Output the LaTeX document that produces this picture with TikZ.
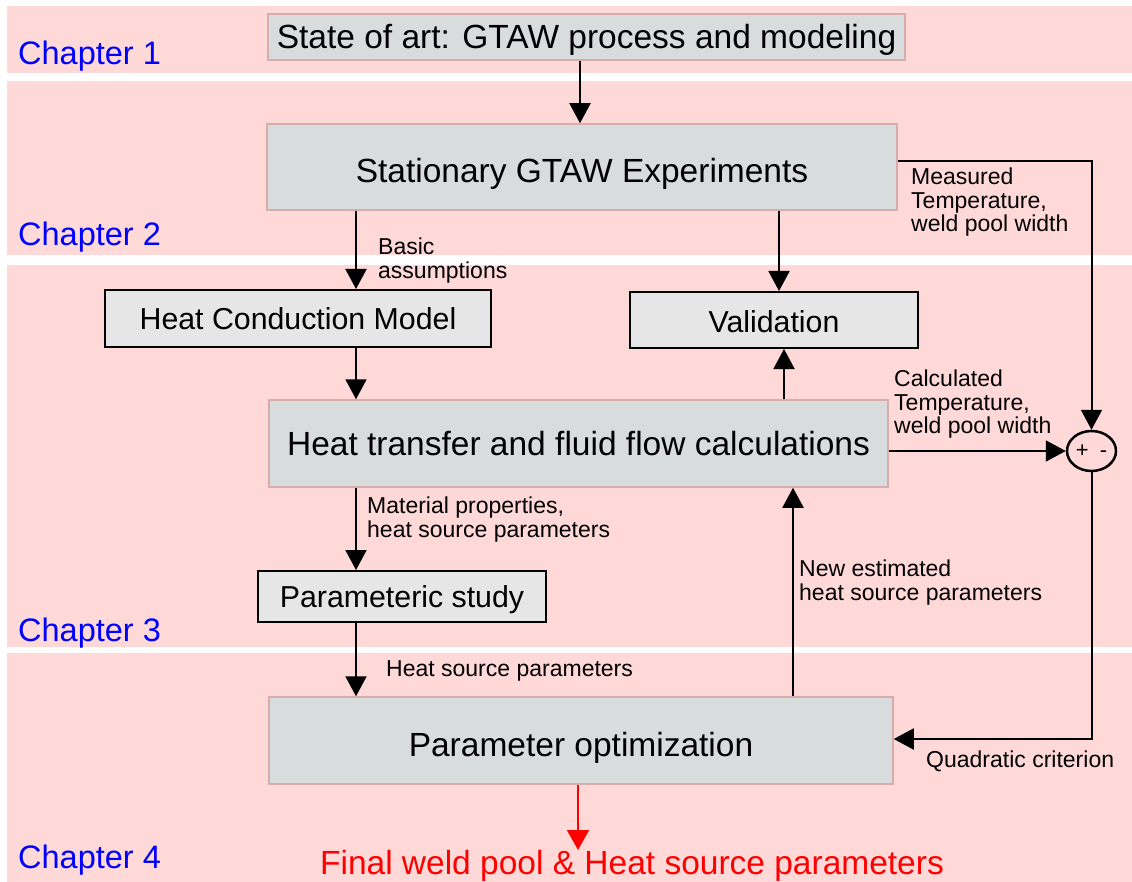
\documentclass[tikz,border=0pt]{standalone}
\usepackage{fontspec}
\setmainfont{Liberation Sans}
\usetikzlibrary{arrows.meta,shapes.geometric}
\definecolor{band}{RGB}{255,216,216}
\definecolor{boxfill}{RGB}{217,220,221}
\definecolor{boxline}{RGB}{214,172,172}
\definecolor{lightbox}{RGB}{230,230,230}
\definecolor{chap}{RGB}{0,0,255}
\definecolor{finalred}{RGB}{255,0,0}
\begin{document}
\begin{tikzpicture}[x=1pt,y=-1pt,
  bigbox/.style={draw=boxline, line width=1.5pt, fill=boxfill, inner sep=0pt, text height=24pt, text depth=0pt, font=\fontsize{33.5}{36}\selectfont},
  smallbox/.style={draw=black, line width=2pt, fill=lightbox, inner sep=0pt, text height=22pt, text depth=0pt, font=\fontsize{30.3}{33}\selectfont},
  lbl/.style={anchor=north west, inner sep=0pt, align=left, font=\fontsize{23}{23.5}\selectfont},
  chaplbl/.style={anchor=base west, inner sep=0pt, text=chap, font=\fontsize{32.5}{35}\selectfont},
  arr/.style={line width=2pt, -{Triangle[length=20pt,width=21pt]}},
  redarr/.style={line width=2pt, draw=finalred, -{Triangle[length=20pt,width=22pt]}},
]
\useasboundingbox (0,0) rectangle (1132,882);
% bands
\fill[band] (7,6) rectangle (1132,73);
\fill[band] (7,81) rectangle (1132,255);
\fill[band] (7,265) rectangle (1132,647);
\fill[band] (7,653) rectangle (1132,882);
% chapter labels
\node[chaplbl] (ch1) at (18,65) {Chapter 1};
\node[chaplbl] (ch2) at (18,246) {Chapter 2};
\node[chaplbl] (ch3) at (18,641) {Chapter 3};
\node[chaplbl] (ch4) at (18,868) {Chapter 4};
% boxes
\node[bigbox, minimum width=637pt, minimum height=46pt] (state) at (586.5,37) {State of art: GTAW process and modeling};
\node[bigbox, text height=32pt, minimum width=630pt, minimum height=86pt] (stat) at (582,167) {Stationary GTAW Experiments};
\node[smallbox, minimum width=386pt, minimum height=57pt] (hcm) at (298,318.5) {Heat Conduction Model};
\node[smallbox, text height=25pt, minimum width=288pt, minimum height=56pt] (val) at (774,320) {Validation};
\node[bigbox, minimum width=619pt, minimum height=87pt] (htf) at (578.5,443.5) {Heat transfer and fluid flow calculations};
\node[smallbox, minimum width=288pt, minimum height=51pt] (ps) at (402,596.5) {Parameteric study};
\node[bigbox, text height=31pt, minimum width=624pt, minimum height=87pt] (po) at (581,740.5) {Parameter optimization};
\node[draw=black, line width=2.5pt, ellipse, minimum width=49pt, minimum height=40pt, inner sep=0pt, font=\fontsize{22}{24}\selectfont] (sum) at (1091.5,451) {+\hspace{11pt}-};
\node[anchor=base, inner sep=0pt, text=finalred, font=\fontsize{33.5}{36}\selectfont] (final) at (632,874) {Final weld pool \& Heat source parameters};
% helper coordinates
\coordinate (x356) at (356,0);
\coordinate (x578) at (578,0);
\coordinate (x580) at (580,0);
\coordinate (x779) at (779,0);
\coordinate (x784) at (784,0);
\coordinate (x793) at (793,0);
\coordinate (y161) at (0,161);
\coordinate (y739) at (0,739);
\coordinate (redend) at (578,850);
% connectors
\draw[arr] (x580 |- state.south) -- (x580 |- stat.north);
\draw[arr] (x356 |- stat.south) -- (x356 |- hcm.north);
\draw[arr] (x356 |- hcm.south) -- (x356 |- htf.north);
\draw[arr] (x356 |- htf.south) -- (x356 |- ps.north);
\draw[arr] (x356 |- ps.south) -- (x356 |- po.north);
\draw[arr] (x779 |- stat.south) -- (x779 |- val.north);
\draw[arr] (x784 |- htf.north) -- (x784 |- val.south);
\draw[arr] (x793 |- po.north) -- (x793 |- htf.south);
\draw[arr] (stat.east |- y161) -| (sum.north);
\draw[arr] (htf.east |- sum.west) -- (sum.west);
\draw[arr] (sum.south) -- (sum.south |- y739) -- (po.east |- y739);
\draw[redarr] (x578 |- po.south) -- (redend);
% labels
\node[lbl] (lmeas) at (911,168) {Measured\\Temperature,\\weld pool width};
\node[lbl] (lcalc) at (894,370) {Calculated\\Temperature,\\weld pool width};
\node[lbl] (lbasic) at (378,238) {Basic\\assumptions};
\node[lbl] (lmat) at (367,497) {Material properties,\\heat source parameters};
\node[lbl] (lnew) at (799,560) {New estimated\\heat source parameters};
\node[lbl] (lhsp) at (386,660) {Heat source parameters};
\node[lbl] (lquad) at (926,751) {Quadratic criterion};
\end{tikzpicture}
\end{document}
